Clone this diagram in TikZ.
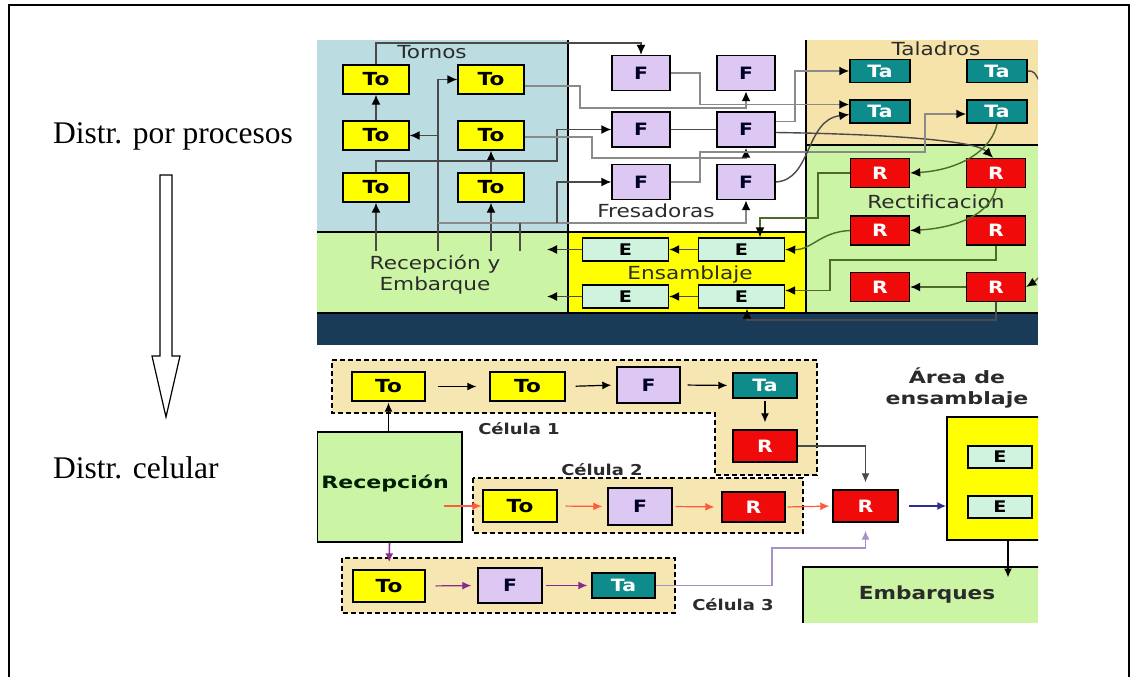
\documentclass[tikz,border=0pt]{standalone}
\usepackage{fontspec}
\setmainfont{Liberation Serif}
\newfontfamily\dv{DejaVu Sans}
\usetikzlibrary{arrows.meta,calc}
\newcommand{\hs}[2][1.2]{\scalebox{#1}[1]{#2}}
\definecolor{cTo}{HTML}{FFFF00}
\definecolor{cF}{HTML}{DCC8F2}
\definecolor{cTa}{HTML}{0E8C8C}
\definecolor{cR}{HTML}{F00A0A}
\definecolor{cE}{HTML}{CFF3DE}
\definecolor{cBlue}{HTML}{BBDDE2}
\definecolor{cGreen}{HTML}{CBF4A4}
\definecolor{cTan}{HTML}{F5E3AA}
\definecolor{cBand}{HTML}{1A3B58}
\definecolor{cCel}{HTML}{F5E6B2}
\definecolor{lineD}{HTML}{4A4A4A}
\definecolor{lineG}{HTML}{8A8A8A}
\definecolor{lineO}{HTML}{4F6B2A}
\definecolor{cOr}{HTML}{FF5A3C}
\definecolor{cPu}{HTML}{8A2A8A}
\definecolor{cLi}{HTML}{A890C8}
\definecolor{cNavy}{HTML}{2E2E8C}
\definecolor{txt}{HTML}{2B2B2B}
\tikzset{
  mach/.style={draw=black, line width=1.4pt, inner sep=0pt},
  tob/.style={mach, fill=cTo, minimum width=66pt, minimum height=29pt, font=\dv\bfseries\fontsize{18}{20}\selectfont},
  fb/.style={mach, fill=cF, minimum width=58pt, minimum height=35pt, text=black!85!blue, font=\dv\bfseries\fontsize{17}{20}\selectfont},
  tab/.style={mach, fill=cTa, minimum width=60pt, minimum height=23pt, text=white, font=\dv\bfseries\fontsize{17}{20}\selectfont},
  rb/.style={mach, fill=cR, minimum width=59pt, minimum height=29pt, text=white, font=\dv\bfseries\fontsize{17}{20}\selectfont},
  eb/.style={mach, fill=cE, minimum width=86pt, minimum height=23pt, font=\dv\bfseries\fontsize{16}{18}\selectfont},
  area/.style={text=txt, inner sep=0pt, font=\dv\fontsize{18}{21}\selectfont, align=center},
  blab/.style={text=txt, inner sep=0pt, font=\dv\bfseries\fontsize{15}{18}\selectfont, align=center},
  tc/.style={draw=lineD, line width=1.4pt, -{Latex[length=10pt,width=9pt,color=black]}},
  tl/.style={draw=lineD, line width=1.4pt},
  gc/.style={draw=lineG, line width=1.8pt, -{Latex[length=10pt,width=9pt,color=black]}},
  oc/.style={draw=lineO, line width=1.4pt, -{Latex[length=10pt,width=9pt,color=black]}},
  bc/.style={draw=black, line width=1.2pt, -{Latex[length=9pt,width=8pt]}},
  cel/.style={draw=black, line width=1.2pt, dash pattern=on 5pt off 3pt, fill=cCel}
}
\begin{document}
\begin{tikzpicture}[x=1pt,y=-1pt]
\useasboundingbox (0,0) rectangle (1132,677);
% outer frame
\draw[line width=1.3pt] (9,677) -- (9,5) -- (1129,5) -- (1129,677);
% left texts
\node[anchor=base west, inner sep=0pt, font=\fontsize{31.5}{34}\selectfont] (t1) at (53,143) {Distr. por procesos};
\node[anchor=base west, inner sep=0pt, font=\fontsize{31.5}{34}\selectfont] (t2) at (53,478) {Distr. celular};
\draw[line width=1.2pt] (160,175) -- (172,175) -- (172,356) -- (180,356) -- (166,417) -- (152,356) -- (160,356) -- cycle;

\begin{scope}
\clip (317,40) rectangle (1038,622);
% ===== top: areas =====
\fill[cBlue] (317,40) rectangle (568,232);
\fill[cGreen] (317,232) rectangle (568,313);
\fill[white] (568,40) rectangle (806,232);
\fill[cTo] (568,232) rectangle (806,313);
\fill[cTan] (806,40) rectangle (1038,145);
\fill[cGreen] (806,145) rectangle (1038,313);
\fill[cBand] (317,313) rectangle (1038,345);
\draw[line width=1.2pt] (568,40) -- (568,313) (806,40) -- (806,313)
  (317,232) -- (806,232) (806,145) -- (1038,145) (317,313) -- (1038,313);

\node[area] (lTor) at (432,52) {\hs{Tornos}};
\node[area] (lFre) at (656,211) {\hs{Fresadoras}};
\node[area] (lTal) at (936,49) {\hs{Taladros}};
\node[area] (lRec) at (936,202) {\hs{Rectificacion}};
\node[area] (lEns) at (690,275) {\hs{Ensamblaje}};
\node[area] (lRyE) at (435,275) {\hs{Recepción y}\\\hs{Embarque}};

% machines
\node[tob] (t11) at (376,79.5) {\hs{To}};
\node[tob] (t12) at (491,79.5) {\hs{To}};
\node[tob] (t21) at (376,135.5) {\hs{To}};
\node[tob] (t22) at (491,135.5) {\hs{To}};
\node[tob] (t31) at (376,187.5) {\hs{To}};
\node[tob] (t32) at (491,187.5) {\hs{To}};
\node[fb] (f11) at (641,73) {\hs{F}};
\node[fb] (f12) at (746,73) {\hs{F}};
\node[fb] (f21) at (641,129.5) {\hs{F}};
\node[fb] (f22) at (746,129.5) {\hs{F}};
\node[fb] (f31) at (641,182) {\hs{F}};
\node[fb] (f32) at (746,182) {\hs{F}};
\node[tab] (ta11) at (880,71) {\hs{Ta}};
\node[tab] (ta12) at (997,71) {\hs{Ta}};
\node[tab] (ta21) at (880,111.5) {\hs{Ta}};
\node[tab] (ta22) at (997,111.5) {\hs{Ta}};
\node[rb] (r11) at (880,173) {\hs{R}};
\node[rb] (r12) at (996,173) {\hs{R}};
\node[rb] (r21) at (880,230.5) {\hs{R}};
\node[rb] (r22) at (996,230.5) {\hs{R}};
\node[rb] (r31) at (880,287) {\hs{R}};
\node[rb] (r32) at (996,287) {\hs{R}};
\node[eb] (e11) at (625.5,249.5) {\hs{E}};
\node[eb] (e12) at (741.5,249.5) {\hs{E}};
\node[eb] (e21) at (625.5,296.5) {\hs{E}};
\node[eb] (e22) at (741.5,296.5) {\hs{E}};

% free ends
\coordinate (p376) at (376,251);
\coordinate (p438) at (438,251);
\coordinate (p491) at (491,251);
\coordinate (p520) at (520,251);
\coordinate (j135) at (438,135.5);
\coordinate (j223) at (438,223);
\coordinate (j557) at (557,223);
\coordinate (o1) at (547,249.5);
\coordinate (o2) at (547,296.5);
\coordinate (off1) at (1042,86);
\coordinate (off2) at (1042,274);

% top connectors
\draw[tc] (t11.north) -- (376,43) -| (f11.north);
\draw[tc] (p438) |- (t12.west);
\draw[tc] (j135) -- (t21.east);
\draw[tc] (p376) -- (t31.south);
\draw[tc] (p491) -- (t32.south);
\draw[tc] (t21.north) -- (t11.south);
\draw[tc] (t32.north) -- (t22.south);
\draw[tc] (t31.north) -- (376,161) -- (557,161) |- (f21.west);
\draw[gc] ($(t12.east)+(0,6.5)$) -- (580,86) -- (580,108) -| (f12.south);
\draw[gc] ($(t22.east)+(0,1.5)$) -- (592,137) -- (592,158) -| (f22.south);
\draw[gc] (j223) -| (f32.south);
\draw[tc] (j557) |- (f31.west);
\draw[tl] (p520) -- (520,223);
\draw[gc] (f11.east) -- (700,73) |- ($(ta21.west)+(0,-7)$);
\draw[tl] (f21.east) -- (f22.west);
\draw[gc] ($(f22.east)+(0,-8)$) -- (795,121.5) |- (ta11.west);
\draw[tc] ($(f22.east)+(0,3)$) .. controls (880,134) and (975,140) .. ($(r12.north)+(-3,0)$);
\draw[gc] (f31.east) -- (700,182) -- (700,152) -- (925,152) |- ($(ta22.west)+(0,2.5)$);
\draw[tc] (f32.east) .. controls (812,180) and (805,120) .. ($(ta21.west)+(0,3)$);
\draw[tl] (ta12.east) .. controls (1034,71) .. (off1);
\draw[oc] (ta22.south) .. controls (992,150) and (960,170) .. (r11.east);
\draw[oc] (r12.south) .. controls (990,215) and (955,228) .. (r21.east);
\draw[oc] (r11.west) -- (818,173) |- (760,218) -- ($(e12.north)+(18.5,0)$);
\draw[oc] (r21.west) .. controls (820,232) and (812,250) .. (e12.east);
\draw[oc] (r22.south) -- (996,260) -- (830,260) |- ($(e22.east)+(0,-6)$);
\draw[oc] (r32.west) -- (r31.east);
\draw[oc] (off2) .. controls (1034,282) .. (r32.east);
\draw[tc] (r32.south) -- (996,320) -| ($(e22.south)+(5.5,0)$);
\draw[tc] (e12.west) -- (e11.east);
\draw[tc] (e22.west) -- (e21.east);
\draw[tc] (e11.west) -- (o1);
\draw[tc] (e21.west) -- (o2);

% ===== bottom =====
\draw[cel] (332,360) -- (817,360) -- (817,475) -- (715,475) -- (715,413) -- (332,413) -- cycle;
\draw[cel] (473,478) rectangle (803,533);
\draw[cel] (342,558) rectangle (675,613);

\node[mach, fill=cGreen, line width=1.2pt, minimum width=145pt, minimum height=110pt] (recB) at (389.5,487) {};
\node[inner sep=0pt, text=black!80!green!60!black, font=\dv\bfseries\fontsize{17}{20}\selectfont] (recL) at (385,483) {\hs[1.3]{Recepción}};
\node[mach, fill=cTo, line width=1.2pt, minimum width=98pt, minimum height=123pt] (eBox) at (996,478.5) {};
\node[mach, fill=cGreen, line width=1.2pt, minimum width=242pt, minimum height=60pt] (emb) at (924,597) {};
\node[inner sep=0pt, text=txt, font=\dv\bfseries\fontsize{18}{20}\selectfont] (embL) at (927,595) {\hs{Embarques}};
\node[blab, font=\dv\bfseries\fontsize{17}{21}\selectfont] (areaL) at (957,388) {\hs[1.3]{Área de}\\\hs[1.3]{ensamblaje}};

\node[tob, minimum width=73pt] (c1t1) at (388.5,386.5) {\hs{To}};
\node[tob, minimum width=75pt] (c1t2) at (527.5,386.5) {\hs{To}};
\node[fb, minimum width=63pt, minimum height=36pt] (c1f) at (648.5,385) {\hs{F}};
\node[tab, minimum width=64pt, minimum height=25pt] (c1ta) at (765,385.5) {\hs{Ta}};
\node[rb, minimum width=64pt, minimum height=32pt] (c1r) at (765,446) {\hs{R}};
\node[tob, minimum width=74pt, minimum height=32pt] (c2t) at (520,506) {\hs{To}};
\node[fb, minimum width=64pt, minimum height=37pt] (c2f) at (640,506.5) {\hs{F}};
\node[rb, minimum width=63pt, minimum height=30pt] (c2r) at (753.5,507) {\hs{R}};
\node[rb, minimum width=65pt, minimum height=32pt] (fR) at (865.5,506) {\hs{R}};
\node[eb, minimum width=64pt, minimum height=22pt] (be1) at (1000,457) {\hs{E}};
\node[eb, minimum width=64pt, minimum height=22pt] (be2) at (1000,507) {\hs{E}};
\node[tob, minimum width=72pt, minimum height=32pt] (c3t) at (389,586) {\hs{To}};
\node[fb, minimum width=64pt, minimum height=35pt] (c3f) at (510,585.5) {\hs{F}};
\node[tab, minimum width=63pt, minimum height=25pt] (c3ta) at (623.5,585.5) {\hs{Ta}};

\node[blab] (cl1) at (519,429) {\hs{Célula 1}};
\node[blab] (cl2) at (602,470) {\hs{Célula 2}};
\node[blab] (cl3) at (733,605) {\hs{Célula 3}};

% bottom connectors
\draw[bc, shorten >=1pt] (c1t1.south |- recB.north) -- (c1t1.south);
\draw[bc, shorten <=12pt, shorten >=13pt] (c1t1.east) -- (c1t2.west);
\draw[bc, shorten <=10pt, shorten >=5pt] (c1t2.east) -- (c1f.west);
\draw[bc, shorten <=7pt, shorten >=5pt] (c1f.east) -- (c1ta.west);
\draw[bc, shorten <=2pt, shorten >=7pt] (c1ta.south) -- (c1r.north);
\draw[bc, draw=lineD, shorten >=7pt] (c1r.east) -| (fR.north);
\draw[bc, draw=cOr, shorten <=-19pt, shorten >=1pt] (c2t.west -| recB.east) -- (c2t.west);
\draw[bc, draw=cOr, shorten <=8pt, shorten >=5pt] (c2t.east) -- (c2f.west);
\draw[bc, draw=cOr, shorten <=3pt, shorten >=7pt] (c2f.east) -- (c2r.west);
\draw[bc, draw=cOr, shorten <=2pt, shorten >=3pt] (c2r.east) -- (fR.west);
\draw[bc, draw=cNavy, line width=1.8pt, shorten <=10pt] (fR.east) -- (eBox.west |- fR.east);
\draw[bc, line width=2.2pt] ($(eBox.south)+(12,0)$) -- ++(0,37);
\draw[bc, draw=cPu, line width=1.6pt, shorten >=7pt] (recB.south) -- (c3t.north);
\draw[bc, draw=cPu, shorten <=10pt, shorten >=6pt] (c3t.east) -- (c3f.west);
\draw[bc, draw=cPu, shorten <=3pt, shorten >=4pt] (c3f.east) -- (c3ta.west);
\draw[bc, draw=cLi, line width=1.4pt, shorten >=8pt] (c3ta.east) -- (772,585.5) -- (772,548) -| (fR.south);
\end{scope}
\end{tikzpicture}
\end{document}
